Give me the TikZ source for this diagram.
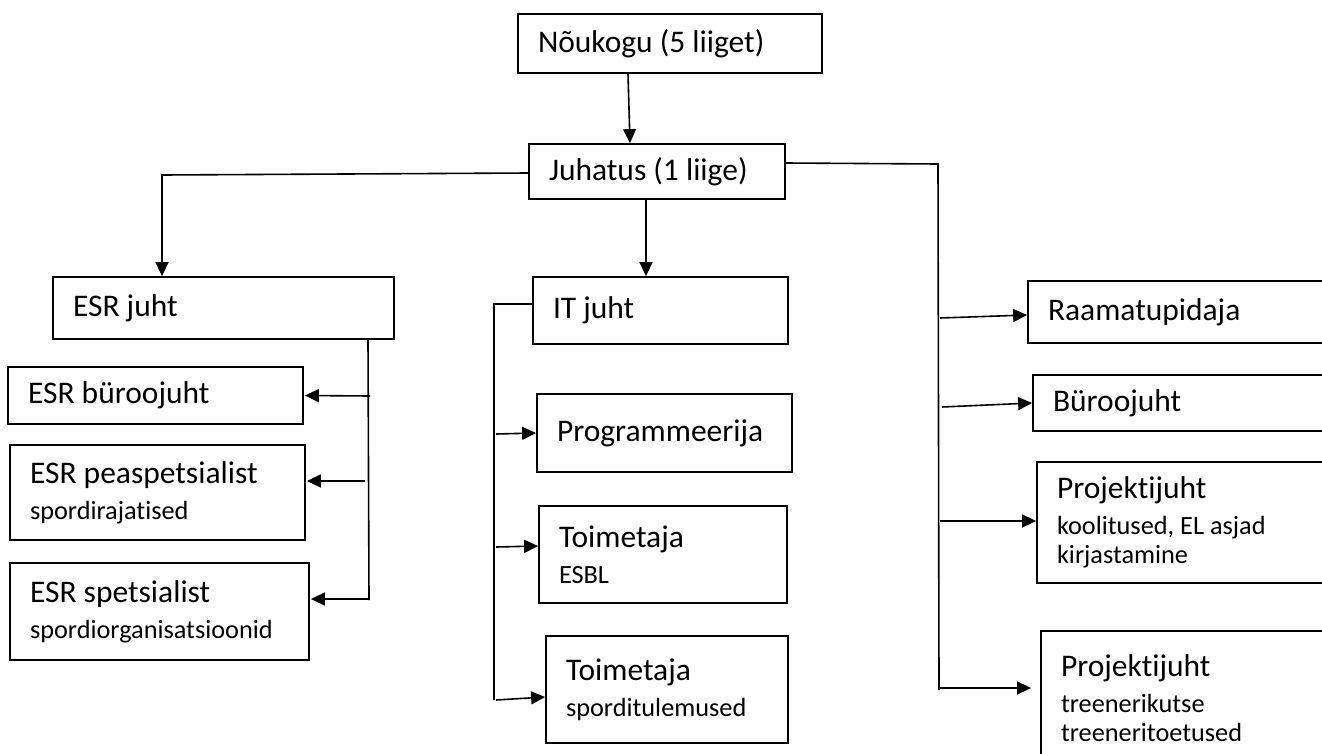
\documentclass[tikz,border=0pt]{standalone}
\usepackage{fontspec}
\setmainfont{Carlito}[Ligatures=NoCommon]
\usetikzlibrary{arrows.meta,calc}
\newcommand\mainf{\fontsize{31.5}{36}\selectfont}
\newcommand\subf{\fontsize{26.3}{29}\selectfont}
\tikzset{
  box/.style={draw=black, line width=1.8pt, rectangle, inner xsep=20pt, inner ysep=0pt,
    align=flush left, font=\mainf, anchor=center},
  conn/.style={line width=1.6pt, black},
  arr/.style={conn, -{Triangle[length=14pt,width=13pt]}}
}
\begin{document}
\begin{tikzpicture}[x=1pt,y=-1pt]
\useasboundingbox (0,0) rectangle (1322,753);
\clip (0,0) rectangle (1322,753);
\fill[white] (0,0) rectangle (1322,753);

% boxes
\node[box, minimum width=304pt, minimum height=59pt, text width=264pt] (nou) at (670,43.5) {Nõukogu (5 liiget)};
\node[box, minimum width=256pt, minimum height=55pt, text width=216pt] (juh) at (657,171.5) {Juhatus (1 liige)};

\node[box, minimum width=341pt, minimum height=62pt, text width=301pt] (esr) at (223.5,308) {ESR juht};
\node[box, minimum width=295pt, minimum height=57pt, text width=255pt] (esrb) at (155.5,395.5) {ESR büroojuht};
\node[box, minimum width=295pt, minimum height=95pt, text width=255pt] (esrp) at (157.5,492.5) {ESR peaspetsialist\\{\subf spordirajatised}};
\node[box, minimum width=299pt, minimum height=97pt, text width=259pt] (esrs) at (159.5,611.5) {ESR spetsialist\\{\subf spordiorganisatsioonid}};

\node[box, minimum width=255pt, minimum height=67pt, text width=215pt] (it) at (660.5,310.5) {IT juht};
\node[box, minimum width=255pt, minimum height=78pt, text width=215pt] (prog) at (664.5,433) {Programmeerija};
\node[box, minimum width=248pt, minimum height=97pt, text width=208pt] (tesbl) at (663,554.5) {Toimetaja\\{\subf ESBL}};
\node[box, minimum width=242pt, minimum height=107pt, text width=202pt] (tspo) at (667,689.5) {Toimetaja\\{\subf sporditulemused}};

\node[box, minimum width=317pt, minimum height=62pt, text width=277pt] (raam) at (1186.5,312) {Raamatupidaja};
\node[box, minimum width=312pt, minimum height=56pt, text width=272pt] (buro) at (1189,403) {Büroojuht};
\node[box, minimum width=308pt, minimum height=121pt, text width=268pt] (proj1) at (1191,522.5) {Projektijuht\\{\subf koolitused, EL asjad}\\[-7pt]{\subf kirjastamine}};
\node[box, minimum width=304pt, minimum height=134pt, text width=264pt] (proj2) at (1193,698) {Projektijuht\\{\subf treenerikutse}\\[-7pt]{\subf treeneritoetused}};

% junction coordinates
\coordinate (jl) at (162,175);
\coordinate (rt) at (938,164);
\coordinate (rb) at (939,690);
\coordinate (r1) at (940,318);
\coordinate (r2) at (942,407);
\coordinate (r3) at (940,521);
\coordinate (r4) at (940,688);
\coordinate (eb) at (369,600);
\coordinate (e1) at (370,396);
\coordinate (e2) at (365,481);
\coordinate (e3) at (368,599);
\coordinate (it0) at (494,304);
\coordinate (itb) at (494,700);
\coordinate (i1) at (496,434);
\coordinate (i2) at (496,547);
\coordinate (i3) at (496,700);

% connectors
\draw[arr] ([xshift=-42pt]nou.south) -- ([xshift=-27pt]juh.north);
\draw[arr] ([yshift=-1.5pt]juh.west) -- (jl) -- ([xshift=-61.5pt]esr.north);
\draw[arr] ([xshift=-11pt]juh.south) -- ([xshift=-14.5pt]it.north);
\draw[conn] ([yshift=8.5pt]juh.east) -- (rt) -- (rb);
\draw[arr] (r1) -- ([yshift=-3pt]raam.west);
\draw[arr] (r2) -- (buro.west);
\draw[arr] (r3) -- ([yshift=1.5pt]proj1.west);
\draw[arr] (r4) -- ([xshift=-9pt,yshift=10pt]proj2.west);

\draw[conn] ([xshift=144.5pt]esr.south) -- (eb);
\draw[arr] (e1) -- ([xshift=1pt]esrb.east);
\draw[arr] (e2) -- ([xshift=1pt,yshift=11.5pt]esrp.east);
\draw[arr] (e3) -- ([xshift=1pt,yshift=12.5pt]esrs.east);

\draw[conn] ([yshift=6.5pt]it.west) -- (it0) -- (itb);
\draw[arr] (i1) -- (prog.west);
\draw[arr] (i2) -- ([yshift=8.5pt]tesbl.west);
\draw[arr] (i3) -- ([yshift=-7.5pt]tspo.west);
\end{tikzpicture}
\end{document}
